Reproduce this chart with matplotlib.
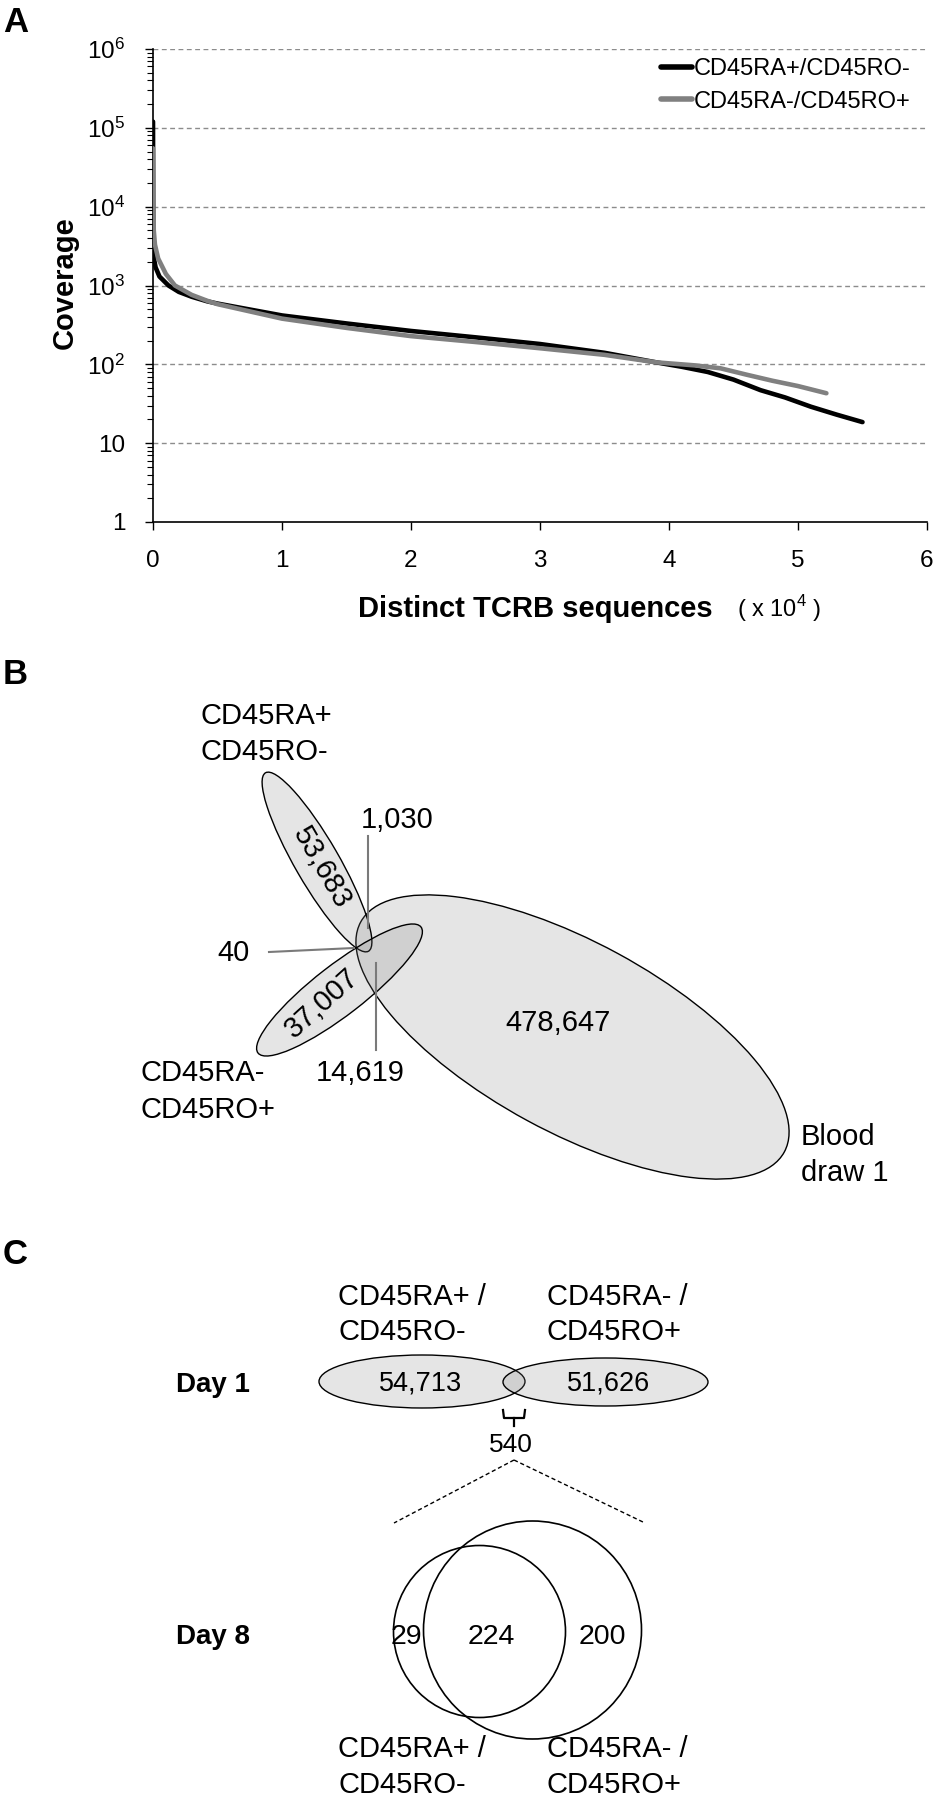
import numpy as np
import matplotlib
matplotlib.use("Agg")
import matplotlib.pyplot as plt
from matplotlib.patches import Ellipse, Circle

plt.rcParams['font.family'] = ['Liberation Sans', 'DejaVu Sans']
plt.rcParams['mathtext.fontset'] = 'custom'
plt.rcParams['mathtext.rm'] = 'Liberation Sans'
plt.rcParams['mathtext.bf'] = 'Liberation Sans:bold'

# ---- Panel A data (x in units of 10^4 distinct sequences) ----
naive_x = [0, 0.002, 0.005, 0.02, 0.05, 0.12, 0.2, 0.3, 0.42, 0.5, 1.0, 1.5, 2.0, 2.5,
           3.0, 3.5, 3.9, 4.1, 4.3, 4.5, 4.71, 4.9, 5.1, 5.3, 5.5]
naive_y = [120000, 4000, 2300, 1700, 1300, 1000, 830, 720, 630, 590, 417, 330, 265, 220,
           181, 140, 106, 93, 80, 64, 47, 38, 29, 23, 18.5]
memory_x = [0, 0.002, 0.006, 0.015, 0.04, 0.1, 0.17, 0.3, 0.42, 0.5, 1.0, 1.5, 2.0, 2.5,
            3.0, 3.5, 3.9, 4.2, 4.4, 4.6, 4.8, 5.0, 5.22]
memory_y = [55000, 12000, 5000, 3300, 2200, 1400, 1000, 760, 640, 580, 380, 290, 228, 192,
            160, 132, 106, 97, 89, 74, 62, 53, 43]
series_names = ['CD45RA+/CD45RO-', 'CD45RA-/CD45RO+']
y_ticks = [1, 10, 100, 1000, 10000, 100000, 1000000]
y_ticklabels = ['1', '10', r'$\mathregular{10^2}$', r'$\mathregular{10^3}$',
                r'$\mathregular{10^4}$', r'$\mathregular{10^5}$', r'$\mathregular{10^6}$']
x_ticks = [0, 1, 2, 3, 4, 5, 6]

# ---- Panel B data ----
b_names = ['naive only', 'naive & blood', 'naive & memory', 'memory only',
           'memory & blood', 'blood only']
b_counts = [53683, 1030, 40, 37007, 14619, 478647]

# ---- Panel C data ----
day1_counts = [54713, 51626]
day1_shared = 540
day8_counts = [29, 224, 200]

W, H = 936, 1800
fig = plt.figure(figsize=(W / 100, H / 100), dpi=100)

# ---------------- Panel A ----------------
ax = fig.add_axes([153 / W, 1 - 522 / H, 774 / W, 473 / H])
ax.plot(naive_x, naive_y, color='black', lw=3.3, solid_capstyle='round',
        label=series_names[0], zorder=3)
ax.plot(memory_x, memory_y, color='#808080', lw=3.3, solid_capstyle='round',
        label=series_names[1], zorder=4)
ax.set_yscale('log')
ax.set_ylim(1, 1e6)
ax.set_xlim(0, 6)
ax.set_yticks(y_ticks)
ax.set_yticklabels(y_ticklabels)
ax.set_xticks(x_ticks)
ax.set_xticklabels([str(t) for t in x_ticks])
ax.yaxis.set_minor_locator(matplotlib.ticker.LogLocator(base=10, subs=np.arange(2, 10)))
ax.yaxis.set_minor_formatter(matplotlib.ticker.NullFormatter())
ax.tick_params(axis='y', which='major', length=6, width=1, pad=14, labelsize=17.5)
ax.tick_params(axis='y', which='minor', length=4, width=0.8)
ax.tick_params(axis='x', which='major', length=6, width=1, pad=14, labelsize=17.5)
for v in y_ticks[1:]:
    ax.axhline(v, color='#8c8c8c', lw=1, ls=(0, (3.5, 2.5)), zorder=1)
ax.spines['top'].set_visible(False)
ax.spines['right'].set_visible(False)
ax.spines['left'].set_linewidth(1.2)
ax.spines['bottom'].set_linewidth(1.2)
leg = ax.legend(loc='upper left', bbox_to_anchor=(661 / W, 1 - 58 / H),
                bbox_transform=fig.transFigure, frameon=False, fontsize=17,
                handlelength=1.3, handletextpad=0.1, labelspacing=0.45,
                borderpad=0, borderaxespad=0)
for ln in leg.get_lines():
    ln.set_linewidth(4)

fig.text(65 / W, 1 - 283 / H, 'Coverage', rotation=90, ha='center', va='center',
         fontsize=21, fontweight='bold')
fig.text(358 / W, 1 - 609 / H, 'Distinct TCRB sequences', ha='left', va='center',
         fontsize=21, fontweight='bold')
fig.text(737 / W, 1 - 609 / H, r'( x 10$^{\mathregular{4}}$ )', ha='left', va='center',
         fontsize=17)

# ---------------- Overlay for B and C (pixel coordinates, y down) ----------------
ov = fig.add_axes([0, 0, 1, 1], zorder=-1)
ov.set_xlim(0, W)
ov.set_ylim(H, 0)
ov.axis('off')

for letter, yy in zip(['A', 'B', 'C'], [22, 675, 1255]):
    ov.text(3, yy, letter, ha='left', va='center', fontsize=25, fontweight='bold')

fill = dict(facecolor=(0.5, 0.5, 0.5, 0.2), edgecolor='black', lw=1)

# Panel B ellipses
ov.add_patch(Ellipse((572.5, 1037), 482, 190, angle=28.5, **fill))
ov.add_patch(Ellipse((317, 862), 206, 44, angle=60, **fill))
ov.add_patch(Ellipse((339.5, 990), 206, 50, angle=-37.7, **fill))

fs_b = 21
ov.text(200, 716, 'CD45RA+', ha='left', va='center', fontsize=fs_b)
ov.text(200, 752, 'CD45RO-', ha='left', va='center', fontsize=fs_b)
ov.text(140, 1073, 'CD45RA-', ha='left', va='center', fontsize=fs_b)
ov.text(140, 1110, 'CD45RO+', ha='left', va='center', fontsize=fs_b)
ov.text(801, 1137, 'Blood', ha='left', va='center', fontsize=fs_b)
ov.text(801, 1173, 'draw 1', ha='left', va='center', fontsize=fs_b)

fmt = [f'{v:,}' for v in b_counts]
ov.text(322, 868, fmt[0], ha='center', va='center', fontsize=fs_b, rotation=-60)
ov.text(397, 820, fmt[1], ha='center', va='center', fontsize=fs_b)
ov.text(233, 953, fmt[2], ha='center', va='center', fontsize=fs_b)
ov.text(322, 1003, fmt[3], ha='center', va='center', fontsize=fs_b, rotation=42)
ov.text(360, 1073, fmt[4], ha='center', va='center', fontsize=fs_b)
ov.text(558, 1023, fmt[5], ha='center', va='center', fontsize=fs_b)

lead = dict(color='#7a7a7a', lw=1.5)
ov.plot([368, 368], [836, 928], **lead)
ov.plot([269, 354], [952, 948], **lead)
ov.plot([376, 376], [963, 1050], **lead)

# Panel C
fs_c = 21
for x0, lines in [(338, ['CD45RA+ /', 'CD45RO-']), (547, ['CD45RA- /', 'CD45RO+'])]:
    ov.text(x0, 1297, lines[0], ha='left', va='center', fontsize=fs_c)
    ov.text(x0, 1332, lines[1], ha='left', va='center', fontsize=fs_c)
    ov.text(x0, 1749, lines[0], ha='left', va='center', fontsize=fs_c)
    ov.text(x0, 1785, lines[1], ha='left', va='center', fontsize=fs_c)

ov.text(176, 1385, 'Day 1', ha='left', va='center', fontsize=20, fontweight='bold')
ov.text(176, 1637, 'Day 8', ha='left', va='center', fontsize=20, fontweight='bold')

ov.add_patch(Ellipse((422, 1381.5), 206, 53, **fill))
ov.add_patch(Ellipse((605.5, 1382), 205, 48, **fill))
ov.text(421, 1383, f'{day1_counts[0]:,}', ha='center', va='center', fontsize=19.5)
ov.text(609, 1383, f'{day1_counts[1]:,}', ha='center', va='center', fontsize=19.5)

# bracket under the day 1 overlap
ov.plot([503, 504, 524, 525], [1410, 1418, 1418, 1410], color='black', lw=1.6)
ov.plot([514, 514], [1418, 1426], color='black', lw=1.6)
ov.text(511, 1445, f'{day1_shared}', ha='center', va='center', fontsize=19)

ov.plot([514, 394], [1460, 1523], color='black', lw=1, ls=(0, (3, 2)))
ov.plot([514, 645], [1460, 1523], color='black', lw=1, ls=(0, (3, 2)))

ov.add_patch(Circle((479.5, 1631.5), 86, facecolor='none', edgecolor='black', lw=1.2))
ov.add_patch(Circle((532.5, 1630), 109, facecolor='none', edgecolor='black', lw=1.2))
for xx, v in zip([406, 491, 602], day8_counts):
    ov.text(xx, 1637, str(v), ha='center', va='center', fontsize=20.5)

fig.savefig('out.png', dpi=100)
